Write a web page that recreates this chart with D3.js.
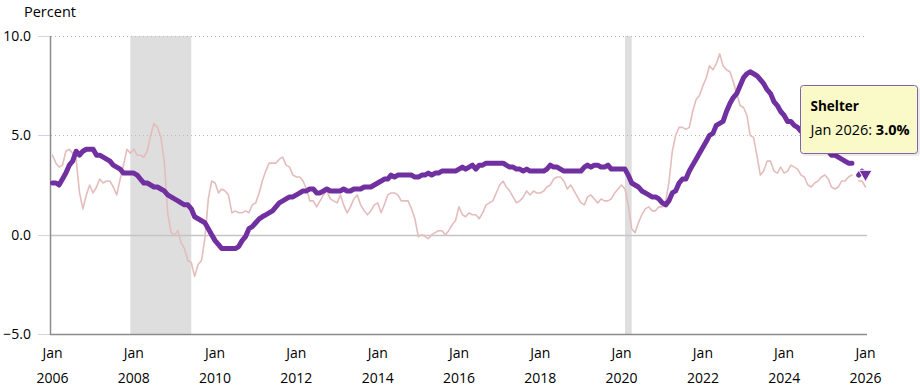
<!DOCTYPE html>
<html>
<head>
<meta charset="utf-8">
<script src="https://cdn.jsdelivr.net/npm/d3@7"></script>
<style>
  html, body { margin: 0; padding: 0; background: #fff; }
  svg { display: block; font-family: "Open Sans", "Noto Sans", sans-serif; }
</style>
</head>
<body>
<svg id="chart" width="920" height="390"></svg>
<script>
// ---- Data (12-month percent change, monthly, Jan 2006 .. Jan 2026) ----
const startMonth = "2006-01";
const shelterName = "Shelter";
const shelterPct = [
  2.6, 2.6, 2.5, 2.8, 3.1, 3.5, 3.7, 4.2, 4.0, 4.2, 4.3, 4.3,   // 2006
  4.3, 4.0, 4.0, 3.9, 3.8, 3.7, 3.5, 3.4, 3.3, 3.1, 3.1, 3.1,   // 2007
  3.1, 3.0, 2.8, 2.6, 2.6, 2.5, 2.4, 2.4, 2.3, 2.2, 2.0, 1.9,   // 2008
  1.8, 1.7, 1.6, 1.5, 1.5, 1.3, 0.9, 0.8, 0.7, 0.6, 0.3, 0.0,   // 2009
  -0.3, -0.5, -0.7, -0.7, -0.7, -0.7, -0.7, -0.6, -0.3, -0.1, 0.3, 0.4, // 2010
  0.6, 0.8, 0.9, 1.0, 1.1, 1.2, 1.4, 1.6, 1.7, 1.8, 1.9, 1.9,   // 2011
  2.0, 2.1, 2.2, 2.2, 2.3, 2.3, 2.1, 2.1, 2.2, 2.3, 2.2, 2.2,   // 2012
  2.2, 2.2, 2.3, 2.2, 2.2, 2.3, 2.3, 2.3, 2.4, 2.4, 2.4, 2.5,   // 2013
  2.6, 2.7, 2.8, 2.8, 3.0, 2.9, 3.0, 3.0, 3.0, 3.0, 3.0, 2.9,   // 2014
  2.9, 3.0, 3.0, 3.1, 3.0, 3.1, 3.1, 3.2, 3.2, 3.2, 3.2, 3.2,   // 2015
  3.3, 3.4, 3.3, 3.4, 3.5, 3.3, 3.5, 3.5, 3.6, 3.6, 3.6, 3.6,   // 2016
  3.6, 3.6, 3.5, 3.4, 3.4, 3.3, 3.3, 3.2, 3.3, 3.2, 3.2, 3.2,   // 2017
  3.2, 3.2, 3.3, 3.5, 3.4, 3.4, 3.3, 3.2, 3.2, 3.2, 3.2, 3.2,   // 2018
  3.2, 3.4, 3.5, 3.4, 3.5, 3.5, 3.4, 3.4, 3.5, 3.3, 3.3, 3.3,   // 2019
  3.3, 3.3, 3.0, 2.6, 2.5, 2.4, 2.2, 2.1, 2.0, 1.9, 1.9, 1.8,   // 2020
  1.6, 1.5, 1.7, 2.1, 2.2, 2.6, 2.8, 2.8, 3.2, 3.5, 3.8, 4.1,   // 2021
  4.4, 4.7, 5.0, 5.1, 5.5, 5.6, 5.7, 6.2, 6.6, 6.9, 7.1, 7.5,   // 2022
  7.9, 8.1, 8.2, 8.1, 8.0, 7.8, 7.6, 7.3, 7.1, 6.7, 6.5, 6.2,   // 2023
  6.0, 5.7, 5.7, 5.5, 5.4, 5.2, 5.1, 5.2, 4.9, 4.9, 4.7, 4.6,   // 2024
  4.4, 4.2, 4.0, 4.0, 3.9, 3.8, 3.7, 3.6, 3.6, null, 3.0, 3.2,  // 2025
  3.0                                                           // 2026
];
const allItemsPct = [
  4.0, 3.6, 3.4, 3.5, 4.2, 4.3, 4.1, 3.8, 2.1, 1.3, 2.0, 2.5,   // 2006
  2.1, 2.4, 2.8, 2.6, 2.7, 2.7, 2.4, 2.0, 2.8, 3.5, 4.3, 4.1,   // 2007
  4.3, 4.0, 4.0, 3.9, 4.2, 5.0, 5.6, 5.4, 4.9, 3.7, 1.1, 0.1,   // 2008
  0.0, 0.2, -0.4, -0.7, -1.3, -1.4, -2.1, -1.5, -1.3, -0.2, 1.8, 2.7, // 2009
  2.6, 2.1, 2.3, 2.2, 2.0, 1.1, 1.2, 1.1, 1.1, 1.2, 1.1, 1.5,   // 2010
  1.6, 2.1, 2.7, 3.2, 3.6, 3.6, 3.6, 3.8, 3.9, 3.5, 3.4, 3.0,   // 2011
  2.9, 2.9, 2.7, 2.3, 1.7, 1.7, 1.4, 1.7, 2.0, 2.2, 1.8, 1.7,   // 2012
  1.6, 2.0, 1.5, 1.1, 1.4, 1.8, 2.0, 1.5, 1.2, 1.0, 1.2, 1.5,   // 2013
  1.6, 1.1, 1.5, 2.0, 2.1, 2.1, 2.0, 1.7, 1.7, 1.7, 1.3, 0.8,   // 2014
  -0.1, 0.0, -0.1, -0.2, 0.0, 0.1, 0.2, 0.2, 0.0, 0.2, 0.5, 0.7, // 2015
  1.4, 1.0, 0.9, 1.1, 1.0, 1.0, 0.8, 1.1, 1.5, 1.6, 1.7, 2.1,   // 2016
  2.5, 2.7, 2.4, 2.2, 1.9, 1.6, 1.7, 1.9, 2.2, 2.0, 2.2, 2.1,   // 2017
  2.1, 2.2, 2.4, 2.5, 2.8, 2.9, 2.9, 2.7, 2.3, 2.5, 2.2, 1.9,   // 2018
  1.6, 1.5, 1.9, 2.0, 1.8, 1.6, 1.8, 1.7, 1.7, 1.8, 2.1, 2.3,   // 2019
  2.5, 2.3, 1.5, 0.3, 0.1, 0.6, 1.0, 1.3, 1.4, 1.2, 1.2, 1.4,   // 2020
  1.4, 1.7, 2.6, 4.2, 5.0, 5.4, 5.4, 5.3, 5.4, 6.2, 6.8, 7.0,   // 2021
  7.5, 7.9, 8.5, 8.3, 8.6, 9.1, 8.5, 8.3, 8.2, 7.7, 7.1, 6.5,   // 2022
  6.4, 6.0, 5.0, 4.9, 4.0, 3.0, 3.2, 3.7, 3.7, 3.2, 3.1, 3.4,   // 2023
  3.1, 3.2, 3.5, 3.4, 3.3, 3.0, 2.9, 2.5, 2.4, 2.6, 2.7, 2.9,   // 2024
  3.0, 2.8, 2.4, 2.3, 2.4, 2.7, 2.7, 2.9, 3.0, null, 2.7, 2.7,  // 2025
  2.4                                                           // 2026
];
const recessions = [["2007-12", "2009-06"], ["2020-02", "2020-04"]];
const yTicks = [-5, 0, 5, 10];
const xTickYears = [2006, 2008, 2010, 2012, 2014, 2016, 2018, 2020, 2022, 2024, 2026];
const yAxisTitle = "Percent";
const tooltipMonth = "2026-01";

// ---- Setup ----
const parseMonth = d3.timeParse("%Y-%m");
const start = parseMonth(startMonth);
const dates = shelterPct.map((_, i) => d3.timeMonth.offset(start, i));
const shelter = shelterPct.map((v, i) => ({ date: dates[i], value: v }));
const allItems = allItemsPct.map((v, i) => ({ date: dates[i], value: v }));

const svg = d3.select("#chart");
const plotLeft = 50, plotRight = 867, plotTop = 36, plotBottom = 334;

const x = d3.scaleTime()
  .domain([parseMonth("2006-01"), parseMonth("2026-01")])
  .range([52.5, 865.5]);
const y = d3.scaleLinear().domain([-5, 10]).range([plotBottom, plotTop]);

// Recession shading
svg.append("g").selectAll("rect").data(recessions).join("rect")
  .attr("x", d => x(parseMonth(d[0])))
  .attr("width", d => x(parseMonth(d[1])) - x(parseMonth(d[0])))
  .attr("y", plotTop)
  .attr("height", plotBottom - plotTop)
  .attr("fill", "#dedede");

// Gridlines
const grid = svg.append("g");
grid.selectAll("line").data(yTicks.filter(t => t > 0)).join("line")
  .attr("x1", plotLeft + 1).attr("x2", plotRight)
  .attr("y1", d => Math.round(y(d)) + 0.5).attr("y2", d => Math.round(y(d)) + 0.5)
  .attr("stroke", "#b8b8b8").attr("stroke-width", 1)
  .attr("stroke-dasharray", "1,3");
grid.append("line")
  .attr("x1", plotLeft).attr("x2", plotRight)
  .attr("y1", Math.round(y(0)) + 0.5).attr("y2", Math.round(y(0)) + 0.5)
  .attr("stroke", "#c4c4c4").attr("stroke-width", 1.5);

// Y axis tick marks (light blue) and labels
const yAxis = svg.append("g");
yAxis.selectAll("line.tick").data(yTicks).join("line")
  .attr("class", "tick")
  .attr("x1", 38).attr("x2", plotLeft)
  .attr("y1", d => Math.round(y(d)) + 0.5).attr("y2", d => Math.round(y(d)) + 0.5)
  .attr("stroke", "#ccd6eb").attr("stroke-width", 1);
yAxis.selectAll("text").data(yTicks).join("text")
  .attr("x", 31).attr("y", d => y(d) + 5)
  .attr("text-anchor", "end")
  .attr("font-size", "14px").attr("fill", "#000")
  .text(d => d3.format(".1f")(d));

// Y axis title
svg.append("text").attr("x", 24).attr("y", 17)
  .attr("font-size", "14.5px").attr("fill", "#000").text(yAxisTitle);

// Axis lines
svg.append("line")
  .attr("x1", plotLeft + 0.5).attr("x2", plotLeft + 0.5)
  .attr("y1", plotTop).attr("y2", plotBottom + 1)
  .attr("stroke", "#8c8c8c").attr("stroke-width", 1.5);
svg.append("line")
  .attr("x1", plotLeft).attr("x2", plotRight)
  .attr("y1", plotBottom + 0.5).attr("y2", plotBottom + 0.5)
  .attr("stroke", "#8c8c8c").attr("stroke-width", 1.5);

// X axis labels
const xAxis = svg.append("g");
const xt = xAxis.selectAll("g").data(xTickYears).join("g")
  .attr("transform", d => `translate(${x(new Date(d, 0, 1))},0)`);
xt.append("text").attr("y", 358).attr("text-anchor", "middle")
  .attr("font-size", "14px").attr("fill", "#000").text("Jan");
xt.append("text").attr("y", 383).attr("text-anchor", "middle")
  .attr("font-size", "14px").attr("fill", "#000").text(d => d);

// Lines
const line = d3.line()
  .defined(d => d.value !== null)
  .x(d => x(d.date)).y(d => y(d.value));

svg.append("path").datum(allItems)
  .attr("d", line).attr("fill", "none")
  .attr("stroke", "#e5bcbc").attr("stroke-width", 1.6)
  .attr("stroke-linejoin", "round").attr("stroke-linecap", "round");

svg.append("path").datum(shelter)
  .attr("d", line).attr("fill", "none")
  .attr("stroke", "#7030a0").attr("stroke-width", 5)
  .attr("stroke-linejoin", "round").attr("stroke-linecap", "round");

// Hover marker (down triangle) at tooltip point
const tipPoint = shelter.find(d => d3.timeFormat("%Y-%m")(d.date) === tooltipMonth);
svg.append("path")
  .attr("d", d3.symbol(d3.symbolTriangle, 75)())
  .attr("transform", `translate(${x(tipPoint.date)},${y(tipPoint.value) - 1}) rotate(180)`)
  .attr("fill", "#7030a0").attr("stroke", "#fff").attr("stroke-width", 1);

// Tooltip
const tip = svg.append("g").attr("transform", "translate(800.5,85.5)");
tip.append("rect").attr("x", 1.5).attr("y", 1.5).attr("width", 118).attr("height", 69)
  .attr("rx", 3).attr("fill", "rgba(0,0,0,0.08)");
tip.append("rect").attr("width", 117).attr("height", 68).attr("rx", 3)
  .attr("fill", "#fafac8").attr("stroke", "#8360b0").attr("stroke-width", 1);
tip.append("text").attr("x", 10).attr("y", 25)
  .attr("font-size", "13.5px").attr("font-weight", "bold").attr("fill", "#000")
  .text(shelterName);
const t2 = tip.append("text").attr("x", 10).attr("y", 49)
  .attr("font-size", "14.5px").attr("fill", "#000");
t2.append("tspan").text(d3.timeFormat("%b %Y")(tipPoint.date) + ": ");
t2.append("tspan").attr("font-weight", "bold").text(d3.format(".1f")(tipPoint.value) + "%");
</script>
</body>
</html>
